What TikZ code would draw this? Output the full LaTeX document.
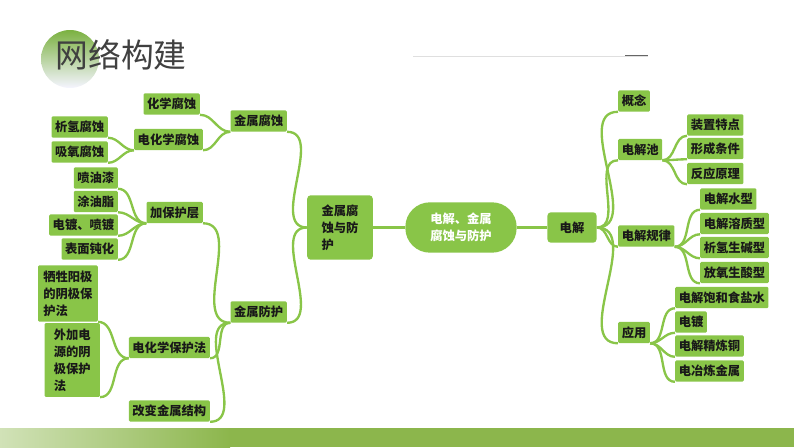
\documentclass[tikz,border=0pt]{standalone}
\usepackage{fontspec}
\newfontfamily\cjk{Noto Sans CJK SC}
\usetikzlibrary{calc}
\definecolor{leaf}{RGB}{137,197,72}
\definecolor{band}{RGB}{140,182,76}

\begin{document}
\begin{tikzpicture}[x=0.03cm,y=-0.03cm,
  every node/.style={fill=leaf,text=black!90,font=\cjk\bfseries\fontsize{10.5}{14.5}\selectfont,
    inner xsep=3pt,inner ysep=1pt,minimum height=18pt,rounded corners=1pt},
  lbox/.style={anchor=east},
  rbox/.style={anchor=west},
  twig/.style={draw=leaf,line width=2pt}]
  \useasboundingbox (0,0) rectangle (794,447);
  % heading and frame
  \shade[shading angle=150,top color=leaf!90!black,bottom color=blue!4!white] (70,59) circle (29);
  \node[fill=none,font=\cjk\fontsize{28}{30}\selectfont,text=black!75] (title) at (121,55) {网络构建};
  \draw[gray!25,line width=0.6pt] (413,56) -- (648,56);
  \draw[black!60,line width=1.6pt] (625,55.5) -- (648,55.5);
  \fill[band] (0,428) rectangle (794,447);
  \shade[left color=band!40!white,right color=band] (0,428) rectangle (230,447);
  % centre
  \path (461,227.5) node[minimum width=95pt,minimum height=43pt,rounded corners=21pt,text=white,align=center] (hx) {电解、金属\\腐蚀与防护}
  (340,227.5) node[minimum width=56pt,minimum height=55pt,rounded corners=3pt,align=left] (jfy) {金属腐\\蚀与防\\护}
  (572,227.5) node[minimum width=42pt,minimum height=26pt,rounded corners=3pt] (dj) {电解};
  % left: corrosion
  \path (287,121) node[lbox] (jsfs) {金属腐蚀}
  (200,104) node[lbox] (hxfs) {化学腐蚀}
  (203,139.5) node[lbox] (dhxfs) {电化学腐蚀}
  (108,127) node[lbox] (xqfs) {析氢腐蚀}
  (108,152) node[lbox] (xyfs) {吸氧腐蚀};
  % left: protection
  \path (287,312) node[lbox] (jsfh) {金属防护}
  (203,212.5) node[lbox] (jbhc) {加保护层}
  (118,178) node[lbox] (pyq) {喷油漆}
  (118,201.5) node[lbox] (tyz) {涂油脂}
  (118,225) node[lbox] (ddpd) {电镀、喷镀}
  (118,249) node[lbox] (bmdh) {表面钝化}
  (210,347.5) node[lbox] (dhxbh) {电化学保护法}
  (210,411) node[lbox] (gbjg) {改变金属结构}
  (98,293.5) node[lbox,minimum width=51pt,minimum height=48pt,align=left] (xsyj) {牺牲阳极\\的阴极保\\护法}
  (100,360) node[lbox,minimum width=47pt,minimum height=63pt,align=left] (wjdy) {外加电\\源的阴\\极保护\\法};
  % right: electrolysis
  \path (618,101) node[rbox] (gn) {概念}
  (618,149.5) node[rbox] (djc) {电解池}
  (687,125) node[rbox] (zztd) {装置特点}
  (687,148.5) node[rbox] (xctj) {形成条件}
  (687,173.5) node[rbox] (fyyl) {反应原理}
  (618,236) node[rbox] (djgl) {电解规律}
  (700,199) node[rbox] (djsx) {电解水型}
  (700,223.5) node[rbox] (djrzx) {电解溶质型}
  (700,247.5) node[rbox] (xqsj) {析氢生碱型}
  (700,272.5) node[rbox] (fysx) {放氧生酸型}
  (618,332.5) node[rbox] (yy) {应用}
  (675,297.5) node[rbox] (bhsy) {电解饱和食盐水}
  (675,322) node[rbox] (dd) {电镀}
  (675,346) node[rbox] (jldt) {电解精炼铜}
  (675,371) node[rbox] (ylj) {电冶炼金属};
  % branches
  \draw[twig] (jfy) -- (hx) -- (dj);
  \foreach \c in {jsfs,jsfh} \draw[twig] (jfy.west) to[out=180,in=0] (\c.south east);
  \foreach \c in {hxfs,dhxfs} \draw[twig] (jsfs.south west) to[out=180,in=0] (\c.south east);
  \foreach \c in {xqfs,xyfs} \draw[twig] (dhxfs.south west) to[out=180,in=0] (\c.south east);
  \foreach \c in {jbhc,dhxbh,gbjg} \draw[twig] (jsfh.south west) to[out=180,in=0] (\c.south east);
  \foreach \c in {pyq,tyz,ddpd,bmdh} \draw[twig] (jbhc.south west) to[out=180,in=0] (\c.south east);
  \foreach \c in {xsyj,wjdy} \draw[twig] (dhxbh.south west) to[out=180,in=0] (\c.south east);
  \foreach \c in {gn,djc,djgl,yy} \draw[twig] (dj.east) to[out=0,in=180] (\c.south west);
  \foreach \c in {zztd,xctj,fyyl} \draw[twig] (djc.south east) to[out=0,in=180] (\c.south west);
  \foreach \c in {djsx,djrzx,xqsj,fysx} \draw[twig] (djgl.south east) to[out=0,in=180] (\c.south west);
  \foreach \c in {bhsy,dd,jldt,ylj} \draw[twig] (yy.south east) to[out=0,in=180] (\c.south west);
\end{tikzpicture}
\end{document}
